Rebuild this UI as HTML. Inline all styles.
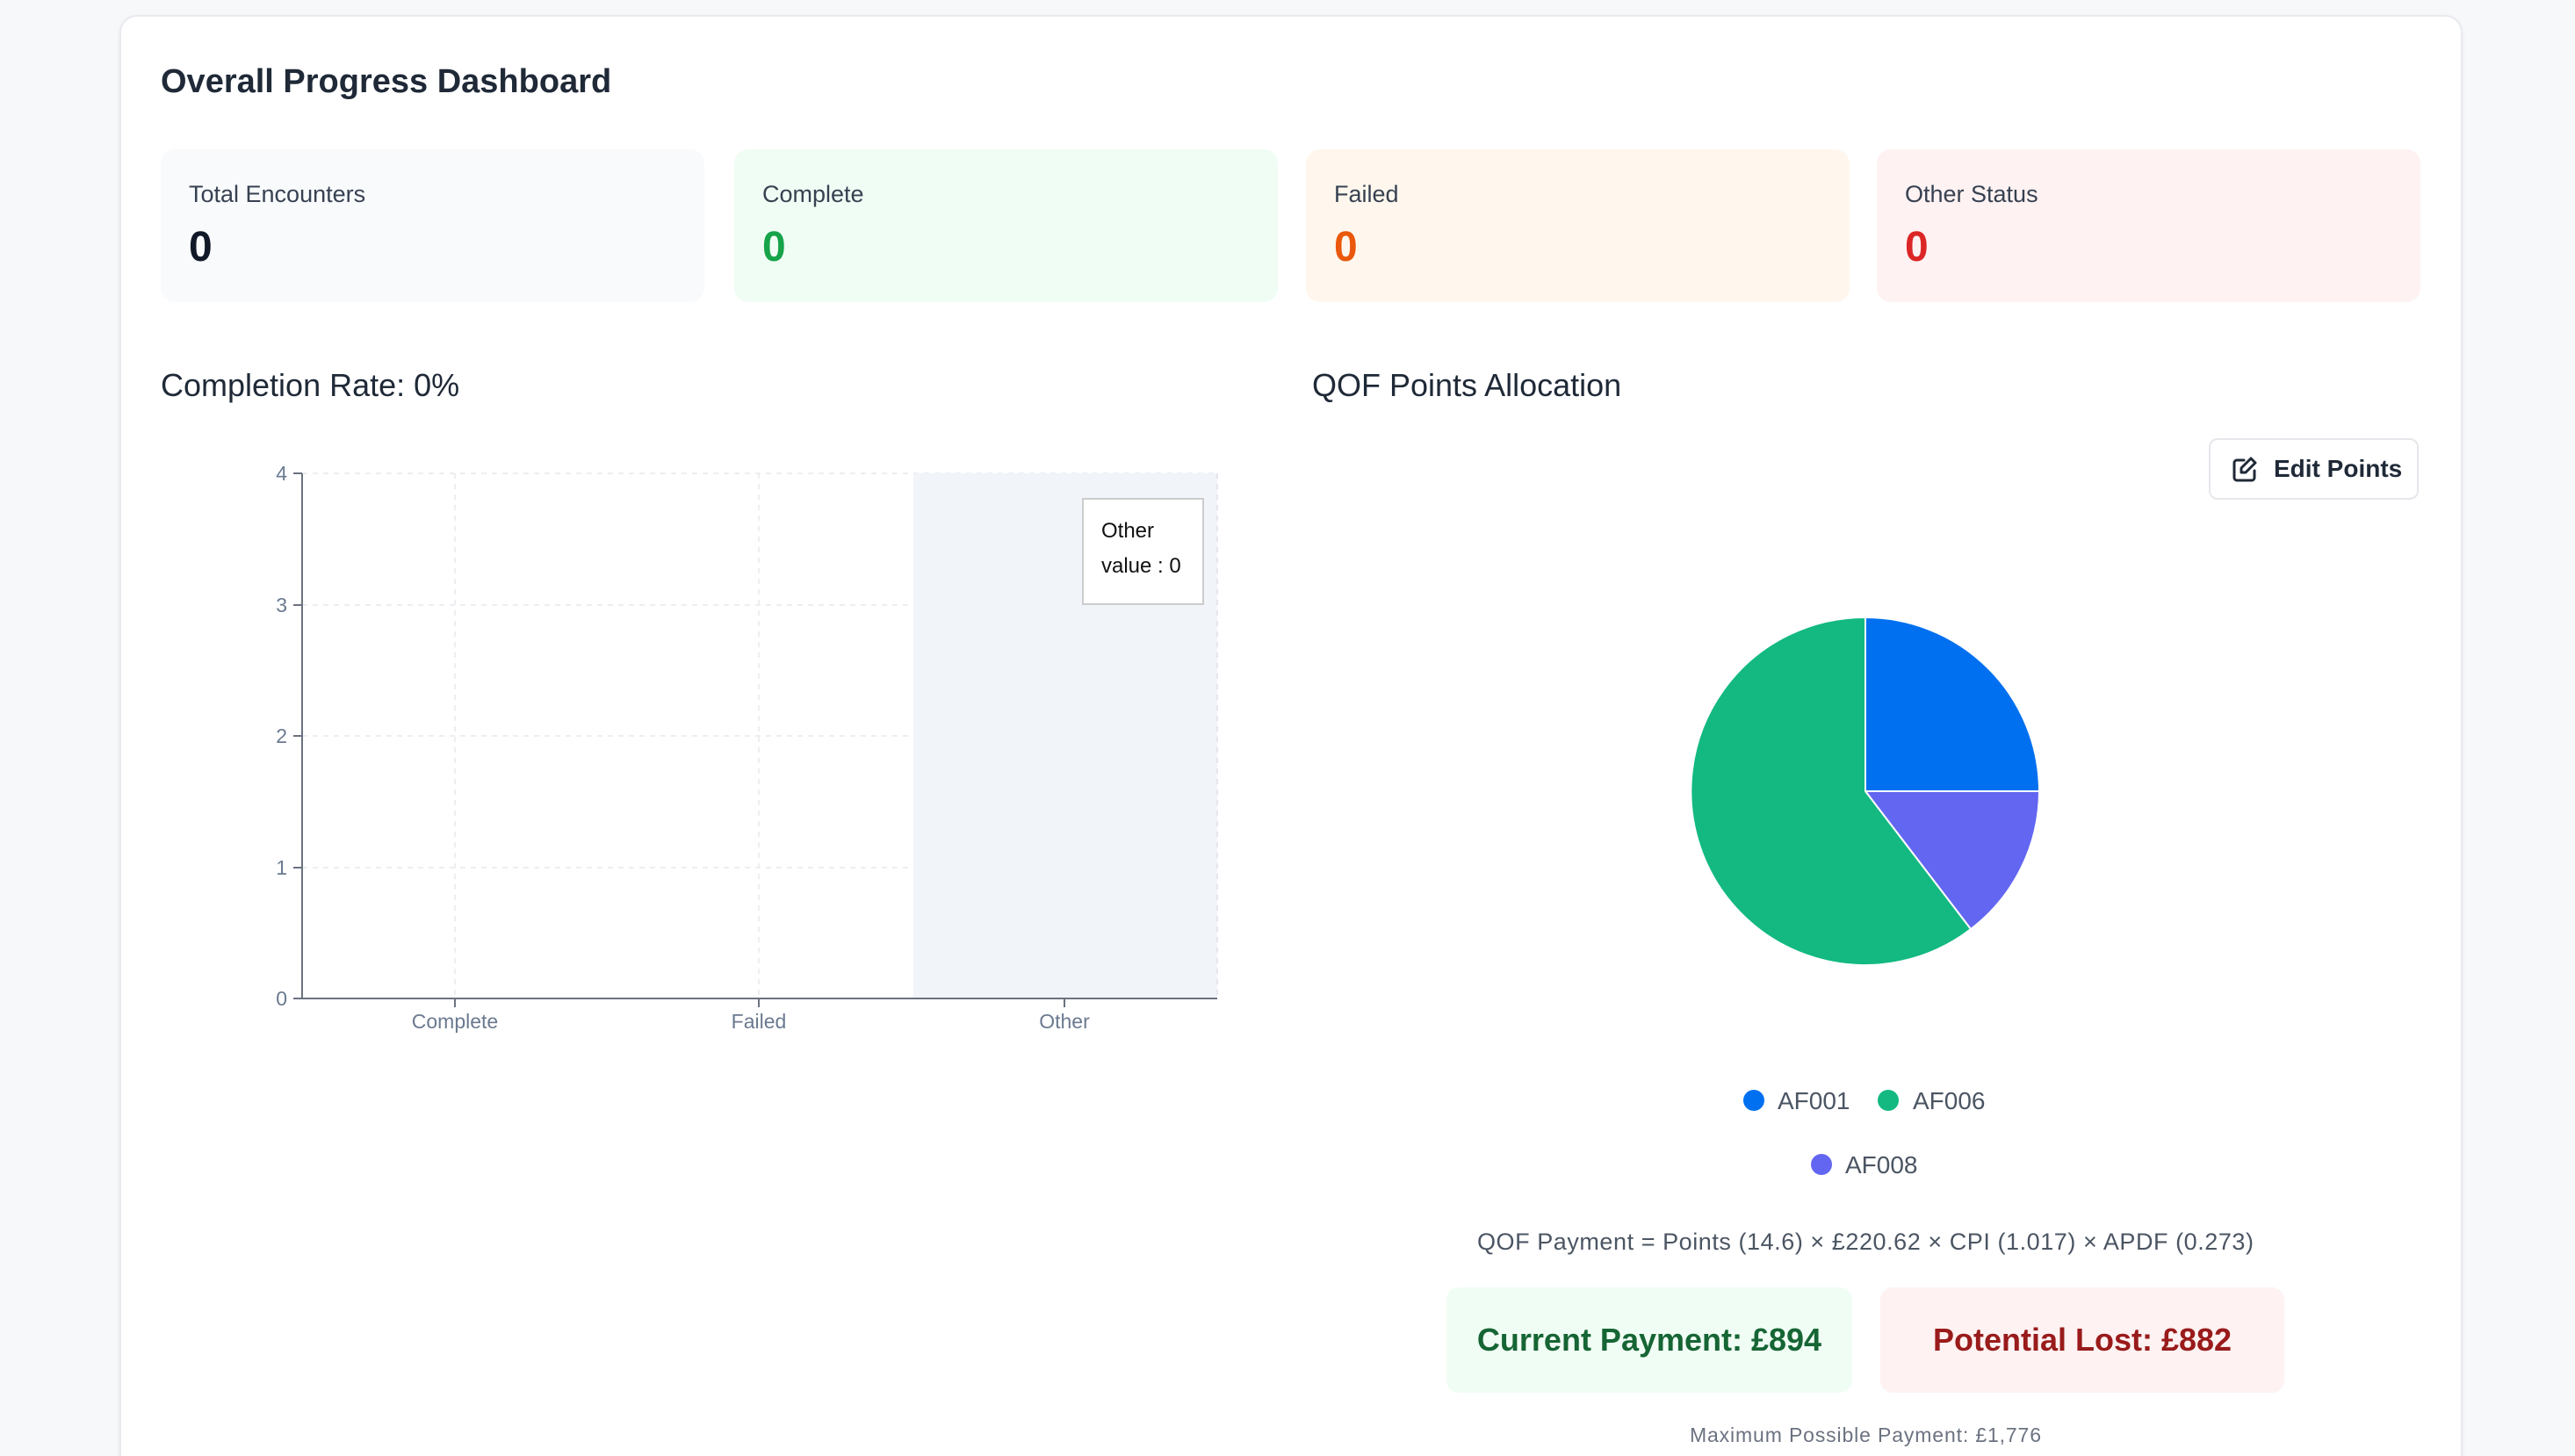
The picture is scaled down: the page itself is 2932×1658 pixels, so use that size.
<!DOCTYPE html>
<html><head><meta charset="utf-8"><style>
*{box-sizing:border-box;margin:0;padding:0}
html,body{width:2932px;height:1658px;overflow:hidden}
body{background:#f7f8fa;font-family:"Liberation Sans",sans-serif}
.wrap{position:relative;width:2932px;height:1658px;overflow:hidden}
.card{position:absolute;left:136px;top:17px;width:2668px;height:1700px;background:#fff;border:2px solid #e8eaef;border-radius:20px;box-shadow:0 2px 6px rgba(0,0,0,.05)}
.abs{position:absolute}
.h1{left:183px;top:72px;font-size:38px;font-weight:bold;color:#1f2937}
.stat{position:absolute;top:170px;width:619px;height:174px;border-radius:16px}
.stat .l{position:absolute;left:32px;top:36px;font-size:27px;color:#374151}
.stat .n{position:absolute;left:32px;top:84px;font-size:48px;font-weight:bold}
.h2{font-size:36px;color:#1f2937;top:418px}
.btn{left:2515px;top:499px;width:239px;height:70px;border:2px solid #e5e7eb;border-radius:10px;font-size:28px;font-weight:bold;color:#1f2937;line-height:66px;padding-left:72px}
.pay{top:1466px;height:120px;border-radius:14px;font-size:36px;font-weight:bold;text-align:center;line-height:120px}
</style></head><body><div class="wrap">
<div class="card"></div>
<div class="abs h1">Overall Progress Dashboard</div>
<div class="stat" style="left:183px;background:#f8fafc"><div class="l">Total Encounters</div><div class="n" style="color:#111827">0</div></div>
<div class="stat" style="left:836px;background:#f0fdf4"><div class="l">Complete</div><div class="n" style="color:#16a34a">0</div></div>
<div class="stat" style="left:1487px;background:#fff7ed"><div class="l">Failed</div><div class="n" style="color:#ea580c">0</div></div>
<div class="stat" style="left:2137px;background:#fef2f2"><div class="l">Other Status</div><div class="n" style="color:#dc2626">0</div></div>
<div class="abs h2" style="left:183px">Completion Rate: 0%</div>
<div class="abs h2" style="left:1494px">QOF Points Allocation</div>
<svg class="abs" style="left:0;top:0" width="2932" height="1658">
<g stroke="#eceef1" stroke-width="2" stroke-dasharray="6 6" fill="none">
<line x1="344" y1="539" x2="1386" y2="539"/><line x1="344" y1="689" x2="1386" y2="689"/><line x1="344" y1="838" x2="1386" y2="838"/><line x1="344" y1="988" x2="1386" y2="988"/>
<line x1="518" y1="539" x2="518" y2="1137"/><line x1="864" y1="539" x2="864" y2="1137"/>
</g>
<rect x="1040" y="539" width="346" height="598" fill="#f1f4f9"/>
<line x1="1386" y1="539" x2="1386" y2="1137" stroke="#e5e7eb" stroke-width="2" stroke-dasharray="6 6"/>
<g stroke="#6b7280" stroke-width="2">
<line x1="344" y1="539" x2="344" y2="1138"/><line x1="344" y1="1137" x2="1386" y2="1137"/>
<line x1="334" y1="539" x2="344" y2="539"/><line x1="334" y1="689" x2="344" y2="689"/><line x1="334" y1="838" x2="344" y2="838"/><line x1="334" y1="988" x2="344" y2="988"/><line x1="334" y1="1137" x2="344" y2="1137"/>
<line x1="518" y1="1137" x2="518" y2="1147"/><line x1="864" y1="1137" x2="864" y2="1147"/><line x1="1212" y1="1137" x2="1212" y2="1147"/>
</g>
<g font-size="23" fill="#6b7a90" font-family="Liberation Sans">
<text x="327" y="547" text-anchor="end">4</text><text x="327" y="697" text-anchor="end">3</text><text x="327" y="846" text-anchor="end">2</text><text x="327" y="996" text-anchor="end">1</text><text x="327" y="1145" text-anchor="end">0</text>
<text x="518" y="1171" text-anchor="middle">Complete</text><text x="864" y="1171" text-anchor="middle">Failed</text><text x="1212" y="1171" text-anchor="middle">Other</text>
</g>
<rect x="1233" y="568" width="137" height="120" fill="#fff" stroke="#ccc" stroke-width="2"/>
<text x="1254" y="612" font-size="24" fill="#111">Other</text>
<text x="1254" y="652" font-size="24" fill="#111">value : 0</text>
<g stroke="#fff" stroke-width="2">
<path d="M2124 901 L2124 703 A198 198 0 0 1 2322 901 Z" fill="#0070f0"/>
<path d="M2124 901 L2322 901 A198 198 0 0 1 2244 1058 Z" fill="#6366f1"/>
<path d="M2124 901 L2244 1058 A198 198 0 1 1 2124 703 Z" fill="#13b981"/>
</g>
<circle cx="1997" cy="1253" r="12" fill="#0070f0"/><circle cx="2150" cy="1253" r="12" fill="#13b981"/><circle cx="2074" cy="1326" r="12" fill="#6366f1"/>
<g font-size="28" fill="#4b5563"><text x="2024" y="1263">AF001</text><text x="2178" y="1263">AF006</text><text x="2101" y="1336">AF008</text></g>
<text x="2124" y="1423" font-size="27" fill="#4b5563" text-anchor="middle" textLength="884">QOF Payment = Points (14.6) × £220.62 × CPI (1.017) × APDF (0.273)</text>
<text x="2124" y="1642" font-size="23" fill="#6b7280" text-anchor="middle" textLength="400">Maximum Possible Payment: £1,776</text>
<g transform="translate(2542,520)" fill="none" stroke="#1f2937" stroke-width="3" stroke-linecap="round" stroke-linejoin="round"><path d="M13 4H5a3 3 0 0 0-3 3v17a3 3 0 0 0 3 3h17a3 3 0 0 0 3-3v-8"/><path d="M21 2l5 5-11 11h-5v-5z"/></g>
</svg>
<div class="abs btn">Edit Points</div>
<div class="abs pay" style="left:1647px;width:462px;background:#f0fdf4;color:#166534">Current Payment: £894</div>
<div class="abs pay" style="left:2141px;width:460px;background:#fef2f2;color:#991b1b">Potential Lost: £882</div>
</div></body></html>
